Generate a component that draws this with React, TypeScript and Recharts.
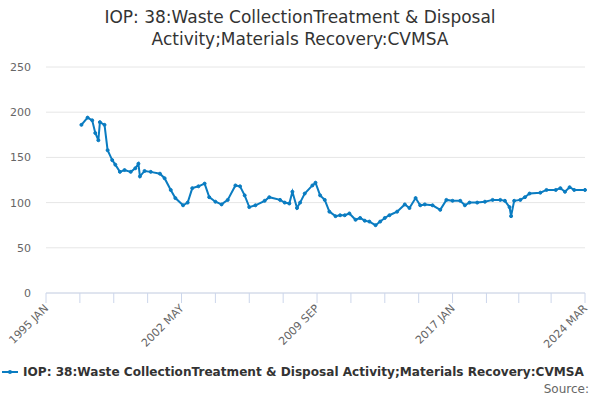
import { LineChart, Line, XAxis, YAxis, CartesianGrid } from "recharts"

// month index counted from 1995 JAN
const MONTHS = [
  23, 27, 30, 32, 34, 35, 38, 40, 43, 45, 48, 51, 55, 58, 60, 61, 64, 68, 74, 77,
  81, 84, 89, 92, 95, 99, 103, 106, 110, 114, 118, 123, 126, 129, 132, 136, 142, 145, 152, 155,
  158, 160, 163, 165, 168, 173, 175, 178, 181, 184, 188, 191, 194, 197, 201, 204, 207, 210, 214, 217,
  220, 223, 228, 233, 236, 240, 243, 246, 251, 256, 260, 264, 269, 272, 275, 280, 285, 290, 295, 298,
  301, 302, 304, 308, 311, 314, 321, 325, 331, 334, 337, 340, 343, 350,
]
const VALUES = [
  186, 194, 191, 177, 169, 189, 186, 158, 147, 142, 134, 136, 134, 138, 143, 129, 135, 134, 132, 127,
  114, 105, 97, 100, 116, 118, 121, 106, 101, 98, 103, 119, 118, 108, 95, 97, 102, 106, 103, 100,
  99, 112, 94, 100, 110, 119, 122, 108, 103, 90, 85, 86, 86, 88, 81, 83, 80, 79, 75, 79,
  83, 86, 90, 98, 94, 105, 97, 98, 97, 92, 103, 102, 102, 97, 100, 100, 101, 103, 103, 102,
  95, 85, 102, 103, 106, 110, 111, 114, 114, 116, 112, 117, 114, 114,
]
const TICKS = [0, 22, 44, 66, 88, 110, 132, 154, 176, 198, 220, 242, 264, 286, 307, 328, 350]
const TICK_LABELS: Record<number, string> = {
  0: "1995 JAN",
  88: "2002 MAY",
  176: "2009 SEP",
  264: "2017 JAN",
  350: "2024 MAR",
}
const Y_TICKS = [0, 50, 100, 150, 200, 250]

const TITLE = "IOP: 38:Waste CollectionTreatment & Disposal Activity;Materials Recovery:CVMSA"
const COLOR = "#0a7cc1"
const FONT = "'DejaVu Sans', sans-serif"

const data = MONTHS.map((m, i) => ({ m, v: VALUES[i] }))

const XTick = ({ x, y, payload }: any) => {
  const label = TICK_LABELS[payload.value]
  return (
    <g>
      <line x1={x} y1={y - 8} x2={x} y2={y + 2} stroke="#ccd6eb" />
      {label && (
        <text
          x={x + 3}
          y={y + 8}
          textAnchor="end"
          fontSize={11}
          fill="#666"
          fontFamily={FONT}
          transform={`rotate(-45 ${x + 3} ${y + 8})`}
        >
          {label}
        </text>
      )}
    </g>
  )
}

export default function App() {
  return (
    <div style={{ position: "absolute", left: 0, top: 0, width: 600, height: 400, background: "#fff", fontFamily: FONT }}>
      <div style={{ position: "absolute", top: 6, left: 0, width: 600, textAlign: "center", fontSize: 17, lineHeight: "22px", color: "#333" }}>
        IOP: 38:Waste CollectionTreatment &amp; Disposal
        <br />
        Activity;Materials Recovery:CVMSA
      </div>
      <LineChart width={600} height={400} data={data} margin={{ top: 67, right: 15, bottom: 0, left: 0 }}>
        <CartesianGrid vertical={false} stroke="#e6e6e6" />
        <XAxis
          dataKey="m"
          type="number"
          domain={[0, 350]}
          ticks={TICKS}
          interval={0}
          stroke="#ccd6eb"
          tickLine={false}
          tick={<XTick />}
          height={107}
        />
        <YAxis
          domain={[0, 250]}
          ticks={Y_TICKS}
          width={46}
          axisLine={false}
          tickLine={false}
          tickSize={0}
          tickMargin={15}
          tick={{ fontSize: 11, fill: "#666", fontFamily: FONT }}
        />
        <Line
          dataKey="v"
          stroke={COLOR}
          strokeWidth={2}
          dot={{ r: 1.5, fill: COLOR, stroke: COLOR, strokeWidth: 1 }}
          isAnimationActive={false}
        />
      </LineChart>
      <div style={{ position: "absolute", top: 365, left: 2, fontSize: 12.1, fontWeight: "bold", color: "#333", whiteSpace: "nowrap", display: "flex", alignItems: "center" }}>
        <svg width={18} height={10} style={{ marginRight: 3 }}>
          <line x1={0} y1={5} x2={16} y2={5} stroke={COLOR} strokeWidth={2} />
          <circle cx={8} cy={5} r={2} fill={COLOR} />
        </svg>
        {TITLE}
      </div>
      <div style={{ position: "absolute", top: 382, right: 11, fontSize: 12, color: "#666" }}>Source:</div>
    </div>
  )
}
